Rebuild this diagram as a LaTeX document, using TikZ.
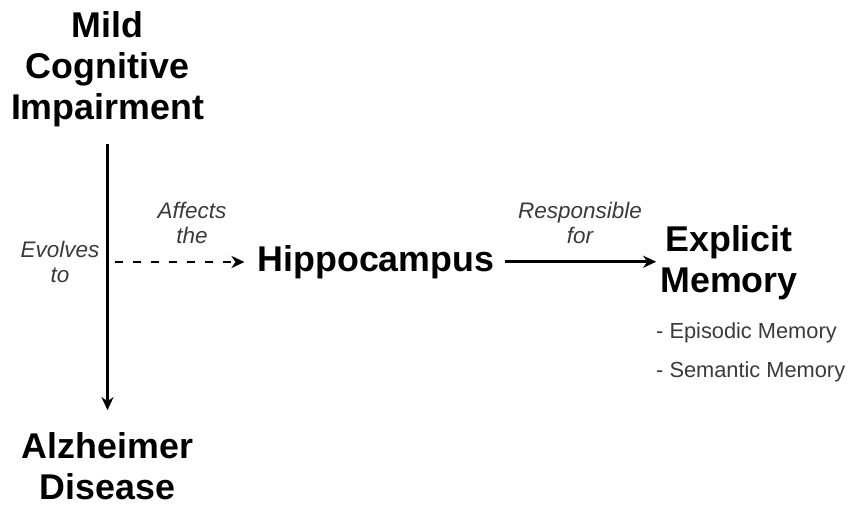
\documentclass[tikz,border=0pt]{standalone}
\usepackage{fontspec}
\setmainfont{Liberation Sans}
\usetikzlibrary{arrows.meta}
\definecolor{labelgray}{HTML}{3A3A3A}
\begin{document}
\begin{tikzpicture}[x=1pt,y=-1pt,
  concept/.style={font=\bfseries\fontsize{35.8}{41}\selectfont, align=center, inner sep=0pt},
  edgelabel/.style={font=\itshape\fontsize{22.5}{25}\selectfont, text=labelgray, align=center, inner sep=0pt},
  listitem/.style={font=\fontsize{21.8}{25}\selectfont, text=labelgray, inner sep=0pt, anchor=base west},
  link/.style={line width=2.8pt, -{Stealth[length=13pt,width=12pt,inset=4pt]}},
  dashedlink/.style={link, dash pattern=on 8pt off 10pt}
]
\useasboundingbox (0,0) rectangle (850,507);

% concepts
\node[concept, inner ysep=17.5pt] (mci) at (107.5,69) {Mild\\Cognitive\\Impairment};
\node[concept, inner ysep=22pt] (alz) at (107.5,466) {Alzheimer\\Disease};
\node[concept, inner xsep=10pt, anchor=base] (hip) at (376,271) {Hippocampus};
\node[concept, inner xsep=4pt] (exp) at (729,263) {Explicit\\Memory};

% kinds of explicit memory
\node[listitem] (epi) at (656,338) {- Episodic Memory};
\node[listitem] (sem) at (656,377) {- Semantic Memory};

% connectors
\coordinate (branch) at (115,262);
\draw[link] (mci) -- (alz);
\draw[dashedlink, shorten >=3pt] (branch) -- (branch -| hip.west);
\draw[link] (hip.east) -- (hip.east -| exp.west);

% connector labels
\node[edgelabel] (evolves) at (60,262) {Evolves\\to};
\node[edgelabel] (affects) at (192,223) {Affects\\the};
\node[edgelabel] (resp) at (580,223) {Responsible\\for};
\end{tikzpicture}
\end{document}
